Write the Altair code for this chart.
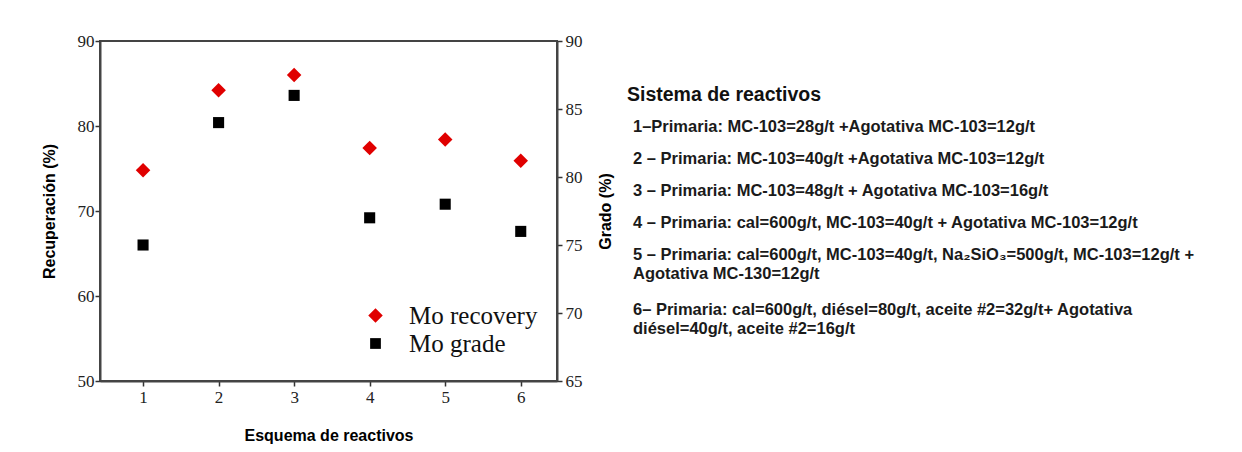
import altair as alt
import pandas as pd

esquema = [1, 2, 3, 4, 5, 6]
recovery = [74.8, 84.2, 86.0, 77.4, 78.4, 75.9]
grade = [75.0, 84.0, 86.0, 77.0, 78.0, 76.0]
series_names = ["Mo recovery", "Mo grade"]
left_ticks = [50, 60, 70, 80, 90]
right_ticks = [65, 70, 75, 80, 85, 90]

panel_title = "Sistema de reactivos"
items = [
    ["1\u2013Primaria: MC-103=28g/t +Agotativa MC-103=12g/t"],
    ["2 \u2013 Primaria: MC-103=40g/t +Agotativa MC-103=12g/t"],
    ["3 \u2013 Primaria: MC-103=48g/t + Agotativa MC-103=16g/t"],
    ["4 \u2013 Primaria: cal=600g/t, MC-103=40g/t + Agotativa MC-103=12g/t"],
    ["5 \u2013 Primaria: cal=600g/t, MC-103=40g/t, Na\u2082SiO\u2083=500g/t, MC-103=12g/t +",
     "Agotativa MC-130=12g/t"],
    ["6\u2013 Primaria: cal=600g/t, di\u00e9sel=80g/t, aceite #2=32g/t+ Agotativa",
     "di\u00e9sel=40g/t, aceite #2=16g/t"],
]

df_rec = pd.DataFrame({"esquema": esquema, "value": recovery, "series": series_names[0]})
df_gra = pd.DataFrame({"esquema": esquema, "value": grade, "series": series_names[1]})

serif = "Liberation Serif"
sans = "Liberation Sans"

xscale = alt.Scale(domain=[0.43, 6.48], nice=False, zero=False)
xaxis = alt.Axis(values=esquema, title="Esquema de reactivos", grid=False, labelFont=serif,
                 labelFontSize=17, labelColor="#222", titleFont=sans, titleFontSize=16,
                 titleFontWeight="bold", titlePadding=22, tickSize=5, domainColor="#444",
                 domainWidth=2, tickColor="#333", tickWidth=1.5, labelPadding=3, format="d")

diamond_path = "M-1.15,0L0,-1.15L1.15,0L0,1.15Z"
square_path = "M-0.85,-0.85L0.85,-0.85L0.85,0.85L-0.85,0.85Z"
shape_scale = alt.Scale(domain=series_names, range=[diamond_path, square_path])
color_scale = alt.Scale(domain=series_names, range=["#e00000", "#000000"])
legend = alt.Legend(title=None, orient="none", legendX=263, legendY=262, labelFont=serif,
                    labelFontSize=25, labelColor="#111", symbolSize=160, symbolStrokeWidth=0,
                    rowPadding=2, labelOffset=21, symbolOpacity=1)

rec = alt.Chart(df_rec).mark_point(filled=True, opacity=1, size=160).encode(
    x=alt.X("esquema:Q", scale=xscale, axis=xaxis),
    y=alt.Y("value:Q", scale=alt.Scale(domain=[50, 90], nice=False, zero=False),
            axis=alt.Axis(values=left_ticks, title="Recuperación (%)", grid=False,
                          labelFont=serif, labelFontSize=17, labelColor="#222",
                          titleFont=sans, titleFontSize=16, titleFontWeight="bold",
                          titlePadding=20, tickSize=5, labelPadding=1, domainColor="#444",
                          domainWidth=2, tickColor="#333", tickWidth=1.5)),
    shape=alt.Shape("series:N", scale=shape_scale, legend=legend),
    color=alt.Color("series:N", scale=color_scale, legend=legend),
)

gra = alt.Chart(df_gra).mark_point(filled=True, opacity=1, size=170).encode(
    x=alt.X("esquema:Q", scale=xscale, axis=xaxis),
    y=alt.Y("value:Q", scale=alt.Scale(domain=[65, 90], nice=False, zero=False),
            axis=alt.Axis(values=right_ticks, orient="right", title="Grado (%)", grid=False,
                          labelFont=serif, labelFontSize=17, labelColor="#222",
                          titleFont=sans, titleFontSize=16, titleFontWeight="bold",
                          titleAngle=270, titlePadding=31, tickSize=5, labelPadding=3,
                          domainColor="#444", domainWidth=2, tickColor="#333", tickWidth=1.5)),
    shape=alt.Shape("series:N", scale=shape_scale, legend=legend),
    color=alt.Color("series:N", scale=color_scale, legend=legend),
)

left = alt.layer(rec, gra).resolve_scale(y="independent").properties(
    width=457, height=340,
    view=alt.ViewBackground(stroke="#444", strokeWidth=2),
)

# text panel rows (item index plus wrapped-line offsets)
rows = []
rows.append({"text": panel_title, "row": 0.0, "kind": "head"})
r = 1.0
for it in items:
    for j, line in enumerate(it):
        rows.append({"text": line, "row": r + 0.6 * j, "kind": "item"})
    r += 1.0 + 0.72 * (len(it) - 1)
df_txt = pd.DataFrame(rows)

yscale_txt = alt.Scale(domain=[-54 / 32, 286 / 32], reverse=True, nice=False, zero=False)

head = alt.Chart(df_txt).transform_filter(alt.datum.kind == "head").mark_text(
    align="left", baseline="middle", font=sans, fontSize=19.5, fontWeight="bold", color="#111"
).encode(
    x=alt.value(0),
    y=alt.Y("row:Q", scale=yscale_txt, axis=None),
    text="text:N",
)
body = alt.Chart(df_txt).transform_filter(alt.datum.kind == "item").mark_text(
    align="left", baseline="middle", font=sans, fontSize=16.5, fontWeight="bold", color="#1a1a1a"
).encode(
    x=alt.value(6),
    y=alt.Y("row:Q", scale=yscale_txt, axis=None),
    text="text:N",
)
right = alt.layer(head, body).properties(width=590, height=340)

chart = alt.hconcat(left, right, spacing=12).properties(
    padding={"left": 32, "top": 23, "right": 0, "bottom": 0},
    background="white",
).configure_view(stroke="transparent")

chart.save("out.html", embed_options={"renderer": "svg", "actions": False})
